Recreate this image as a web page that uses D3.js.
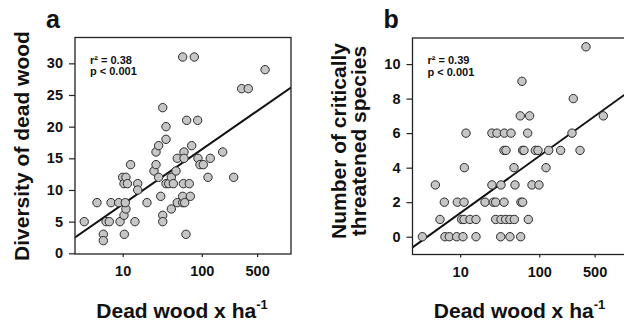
<!DOCTYPE html>
<html>
<head>
<meta charset="utf-8">
<script src="https://cdn.jsdelivr.net/npm/d3@7"></script>
<style>
  body { margin: 0; background: #fff; }
  svg text { font-family: "Liberation Sans", Arial, Helvetica, sans-serif; font-weight: bold; fill: #111; }
</style>
</head>
<body>
<script>
/***********************************************************************************/
// Data

var xTicks = [10, 100, 500];
var yTicksA = [0, 5, 10, 15, 20, 25, 30];
var yTicksB = [0, 2, 4, 6, 8, 10];

// panel a : dead wood volume vs diversity of dead wood
var woodA = [3.27, 4.74, 5.7, 5.7, 6.17, 6.78, 7.13, 8.92, 9.26, 10.0, 10.4, 11.0, 11.5, 10.4, 11.0, 10.8, 10.5,
  12.6, 14.3, 15.5, 15.5, 20.3, 24.9, 26.4, 26.4, 28.5, 28.5, 30.3, 32.1, 32.1, 32.1, 35.3, 35.3, 35.3,
  38.2, 41.2, 41.2, 43.7, 47.2, 49.0, 49.0, 57.4, 57.4, 57.4, 58.5, 60.8, 59.6, 59.6, 63.1, 64.4, 69.5,
  71.6, 74.5, 80.4, 88.7, 89.5, 94.8, 104.4, 119.7, 128, 183.6, 253, 319, 387, 630];
var diversityA = [5, 8, 3, 2, 5, 5, 8, 8, 5, 12, 11, 12, 11, 6, 7, 8, 3,
  14, 5, 11, 10, 8, 13, 16, 14, 17, 12, 9, 23, 6, 5, 20, 18, 11,
  11, 7, 12, 11, 13, 8, 15, 31, 8, 9, 11, 8, 16, 15, 3, 21, 11,
  9, 17, 31, 21, 15, 14, 14, 12, 15, 16, 12, 26, 26, 29];

// panel b : dead wood volume vs number of critically threatened species
var woodB = [3.33, 6.43, 7.3, 9.04, 10.86, 15.85, 32.5, 42.6, 58.2,
  5.56, 10.45, 11.19, 13.3, 15.85, 28.1, 32.8, 37.6, 42.6, 48.4, 72.7,
  6.31, 9.21, 11.19, 20.6, 26.3, 28.1, 35.8, 58.7, 61.6,
  4.86, 25.2, 32.8, 49.3, 80.9, 99.1,
  11.3, 47.9, 121.6,
  35.8, 38.0, 61.6, 64.1, 89.1, 96.3, 131.3, 186, 327,
  11.86, 25.2, 29.2, 36.2, 43.9, 71.3, 259,
  57.5, 75.5, 644,
  269, 60.4, 389];
var speciesB = [0, 0, 0, 0, 0, 0, 0, 0, 0,
  1, 1, 1, 1, 1, 1, 1, 1, 1, 1, 1,
  2, 2, 2, 2, 2, 2, 2, 2, 2,
  3, 3, 3, 3, 3, 3,
  4, 4, 4,
  5, 5, 5, 5, 5, 5, 5, 5, 5,
  6, 6, 6, 6, 6, 6, 6,
  7, 7, 7,
  8, 9, 11];

// regression y = intercept + slope * log10(x)
var fitA = [-0.96, 8.68];
var fitB = [-1.93, 3.30];
var statsA = ['r\u00b2 = 0.38', 'p < 0.001'];
var statsB = ['r\u00b2 = 0.39', 'p < 0.001'];

/***********************************************************************************/
// Setup

var svg = d3.select('body').append('svg').attr('width', 624).attr('height', 324);

var plotW = 216, plotH = 216.5;
var xDomain = [2.5, 1340];

function drawPanel(opt){
  var g = svg.append('g').attr('transform', `translate(${opt.left},${opt.top})`);
  var x = d3.scaleLog().domain(xDomain).range([0, plotW]);
  var y = d3.scaleLinear().domain(opt.yDomain).range([plotH, 0]);

  var xAxis = g.append('g').attr('transform', `translate(0,${plotH})`)
    .call(d3.axisBottom(x).tickValues(xTicks).tickFormat(d3.format('d')).tickSize(3).tickPadding(9));
  var yAxis = g.append('g')
    .call(d3.axisLeft(y).tickValues(opt.yTicks).tickSize(6).tickPadding(6));
  [xAxis, yAxis].forEach(function(a){
    a.select('.domain').remove();
    a.selectAll('line').attr('stroke', '#222').attr('stroke-width', 1.2);
    a.selectAll('text').style('font-size', '14.5px').attr('fill', '#111');
  });

  // clip for the fit line
  var clipId = 'clip' + opt.name;
  g.append('clipPath').attr('id', clipId).append('rect').attr('width', plotW).attr('height', plotH);

  var fit = opt.fit;
  g.append('line')
    .attr('clip-path', `url(#${clipId})`)
    .attr('x1', x(xDomain[0])).attr('y1', y(fit[0] + fit[1] * Math.log10(xDomain[0])))
    .attr('x2', x(xDomain[1])).attr('y2', y(fit[0] + fit[1] * Math.log10(xDomain[1])))
    .attr('stroke', '#111').attr('stroke-width', 2);

  var pts = opt.xs.map(function(d, i){ return [d, opt.ys[i]]; });
  g.selectAll('circle').data(pts).enter().append('circle')
    .attr('cx', d => x(d[0])).attr('cy', d => y(d[1])).attr('r', 4.2)
    .attr('fill', '#c6c6c6').attr('stroke', '#2a2a2a').attr('stroke-width', 1);

  g.append('rect').attr('width', plotW).attr('height', plotH)
    .attr('fill', 'none').attr('stroke', '#222').attr('stroke-width', 1.3);

  g.selectAll('.stat').data(opt.stats).enter().append('text')
    .attr('class', 'stat')
    .attr('x', 15).attr('y', (d, i) => 26 + i * 11.5)
    .style('font-size', '11px').text(d => d);

  // panel letter
  svg.append('text').attr('x', opt.left - 29).attr('y', 28)
    .style('font-size', '25px').text(opt.name);

  // x title
  var xt = svg.append('text').attr('x', opt.left + 107).attr('y', 318)
    .attr('text-anchor', 'middle').style('font-size', '21px');
  xt.append('tspan').text('Dead wood x ha');
  xt.append('tspan').attr('dy', -9).style('font-size', '13px').text('-1');

  // y title
  opt.yTitle.forEach(function(t, i){
    svg.append('text')
      .attr('transform', `translate(${opt.yTitleX[i]},${opt.yTitleY}) rotate(-90)`)
      .attr('text-anchor', 'middle').style('font-size', '21px').text(t);
  });
}

drawPanel({ name: 'a', left: 75, top: 37.5, yDomain: [-0.11, 34.08], yTicks: yTicksA,
  xs: woodA, ys: diversityA, fit: fitA, stats: statsA,
  yTitle: ['Diversity of dead wood'], yTitleX: [29], yTitleY: 146 });

drawPanel({ name: 'b', left: 412.5, top: 38, yDomain: [-1.03, 11.51], yTicks: yTicksB,
  xs: woodB, ys: speciesB, fit: fitB, stats: statsB,
  yTitle: ['Number of critically', 'threatened species'], yTitleX: [346, 366], yTitleY: 141 });
</script>
</body>
</html>
